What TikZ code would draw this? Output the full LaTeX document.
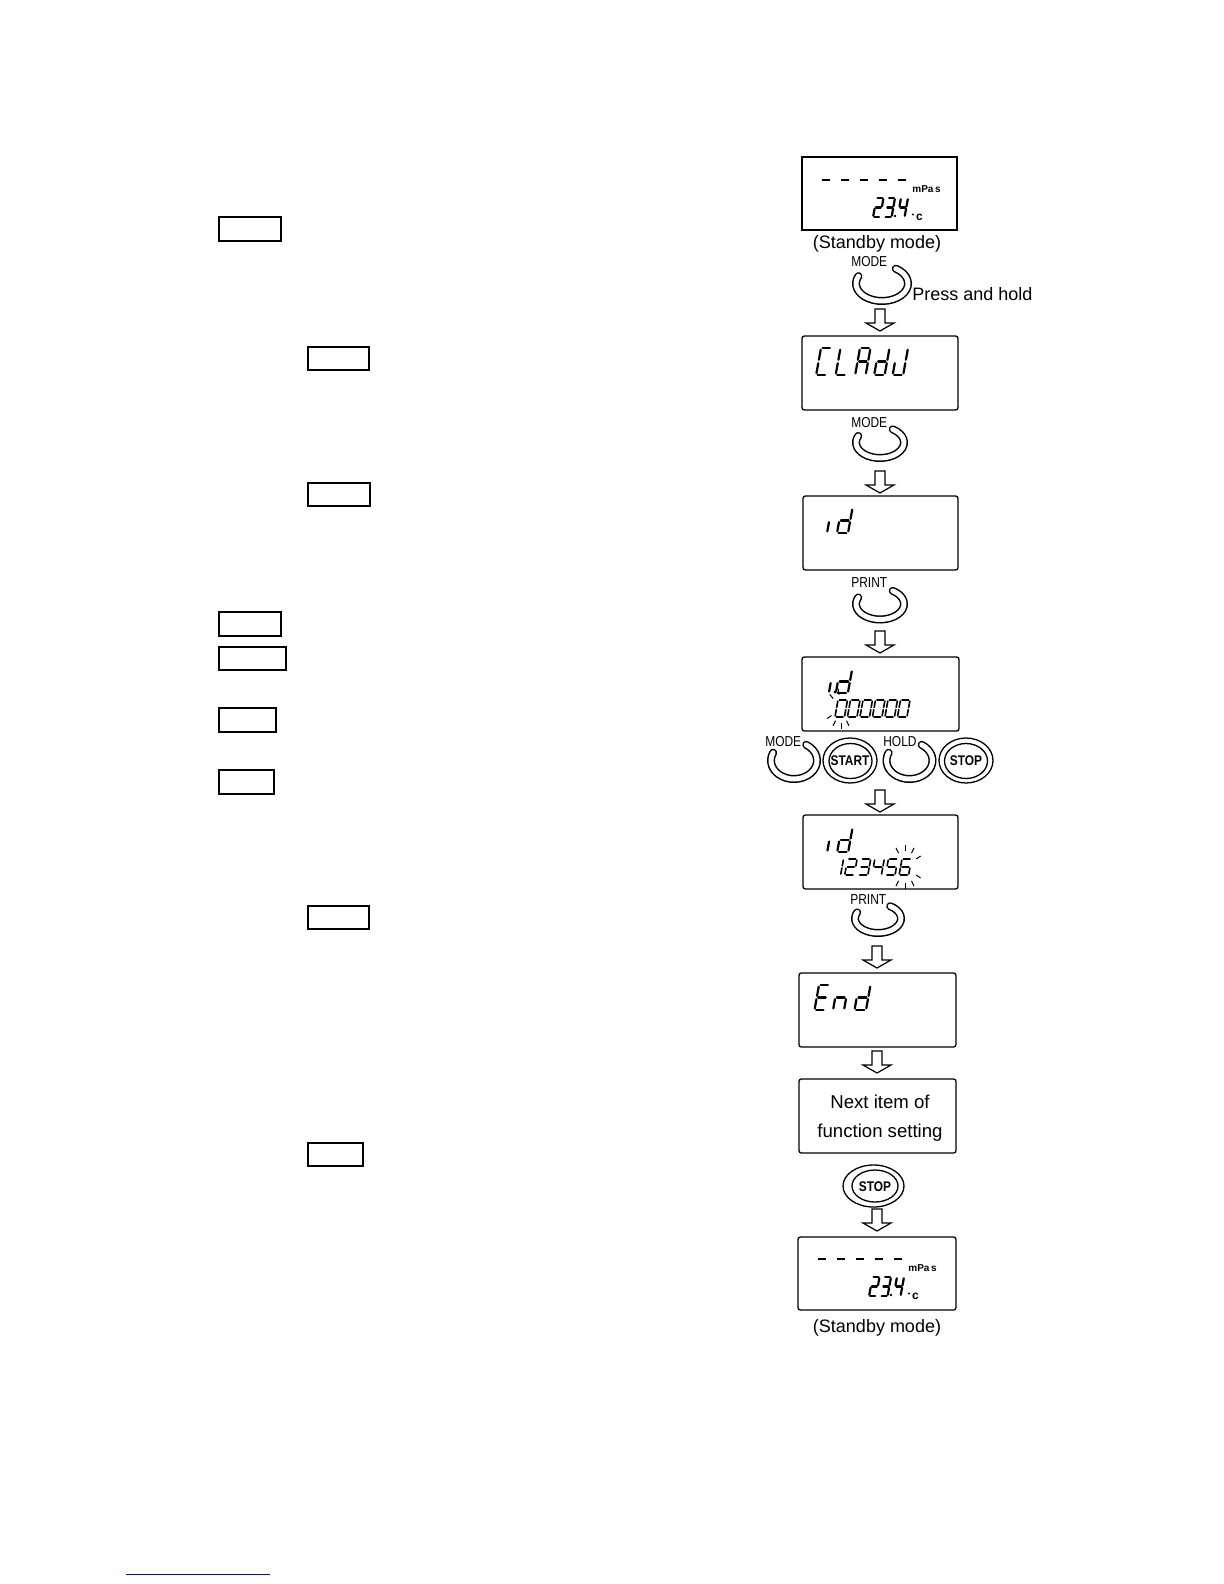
\documentclass[tikz,border=0pt]{standalone}
\usepackage{fontspec}
\setmainfont{Liberation Sans}
\pgfkeys{/seg/.cd,
 a/.code={\draw[segl] (0.15,0)--(0.85,0);},
 b/.code={\draw[segl] (1,0.13)--(1,0.87);},
 c/.code={\draw[segl] (1,1.13)--(1,1.87);},
 d/.code={\draw[segl] (0.15,2)--(0.85,2);},
 e/.code={\draw[segl] (0,1.13)--(0,1.87);},
 f/.code={\draw[segl] (0,0.13)--(0,0.87);},
 g/.code={\draw[segl] (0.15,1)--(0.85,1);}}
% x, y (top-left), width, height, segments
\newcommand\sdig[5]{%
 \pgfmathsetmacro\segsl{0.09*#4/#3}%
 \pgfmathsetmacro\segh{#4/2}%
 \begin{scope}[shift={(#1,#2)},xscale=#3,yscale=\segh,xslant=\segsl]
 \foreach \s in {#5}{\edef\segtmp{\noexpand\pgfkeys{/seg/\s}}\segtmp}
 \end{scope}}
\newcommand\ringbtn[4]{%
  \draw[ringb] (#1,#2) ++(58:#3 and #4) arc[start angle=58,end angle=-205,x radius=#3,y radius=#4];
  \draw[ringw] (#1,#2) ++(58:#3 and #4) arc[start angle=58,end angle=-205,x radius=#3,y radius=#4];}
\newcommand\harrow[2]{\draw[harr] (#1-5,#2) -- (#1+5,#2) -- (#1+5,#2+14) -- (#1+14,#2+14) -- (#1,#2+22) -- (#1-14,#2+14) -- (#1-5,#2+14) -- cycle;}
\newcommand\standbydisp[3]{%
 \begin{scope}[shift={(#1,#2)}]
 \foreach \xx in {821.5,840.5,859.5,878.5,897.5} \draw[line width=1.3pt] (\xx,180) -- (\xx+8.5,180);
 \node[font=\bfseries\fontsize{5}{6}\selectfont, inner sep=0, anchor=west] (mp#3) at (912,189) {mPa\,s};
 \sdig{876.5}{198}{7}{19}{a,b,g,e,d}
 \sdig{888}{198}{7}{19}{a,b,g,c,d}
 \sdig{901}{198}{7}{19}{f,g,b,c}
 \fill (895,216) circle[radius=0.65pt];
 \fill (913,214.5) circle[radius=0.55pt];
 \node[font=\bfseries\fontsize{6}{7}\selectfont, inner sep=0] (dc#3) at (919.5,217) {c};
 \end{scope}}
\begin{document}
\begin{tikzpicture}[x=0.5pt,y=-0.5pt,
  lbox/.style={line width=0.9pt},
  disp/.style={line width=0.65pt, rounded corners=1.2pt},
  segl/.style={line width=1.1pt, line cap=round},
  harr/.style={line width=0.6pt, fill=white, line join=miter},
  txt/.style={font=\fontsize{9}{11}\selectfont, inner sep=0},
  blbl/.style={font=\fontsize{7.2}{8}\selectfont, inner sep=0, xscale=0.83, anchor=west},
  ringb/.style={line width=4pt, line cap=round},
  ringw/.style={line width=2.5pt, white, line cap=round},
  btxt/.style={font=\bfseries\fontsize{7}{8}\selectfont, inner sep=0, xscale=0.85},
  dring/.style={line width=0.65pt},
  ray/.style={line width=0.5pt},
]
\useasboundingbox (0,0) rectangle (1224,1584);

% left key boxes
\draw[lbox] (219,217) rectangle (281,241);
\draw[lbox] (308,347) rectangle (369,370);
\draw[lbox] (308,483) rectangle (370,506);
\draw[lbox] (219,612) rectangle (281,636);
\draw[lbox] (219,647) rectangle (286,670);
\draw[lbox] (219,708) rectangle (276,732);
\draw[lbox] (219,770) rectangle (274,794);
\draw[lbox] (308,906) rectangle (369,929);
\draw[lbox] (308,1143) rectangle (363,1166);

% blue line at bottom
\draw[blue, line width=0.5pt] (126,1574) -- (270,1574);

% D1 standby
\draw[line width=0.65pt] (802,157) rectangle (957,230);
\standbydisp{0}{0}{a}
\node[txt, anchor=base] (sb1) at (877,248) {(Standby mode)};
\ringbtn{882}{283.5}{13pt}{8.75pt}
\node[blbl] (m1) at (851,262) {MODE};
\node[txt, anchor=base west] (ph) at (912,300) {Press and hold};
\harrow{880}{309}

% D2 CLAdJ
\draw[disp] (802,336) rectangle (958,410);
\sdig{821}{348}{10.5}{27}{a,d,e,f}
\sdig{840.5}{348}{10.5}{27}{d,e,f}
\sdig{860}{348}{10.5}{27}{a,b,c,e,f,g}
\sdig{879}{348}{10.5}{27}{b,c,d,e,g}
\sdig{897.5}{348}{10.5}{27}{b,c,d,e}
\ringbtn{880}{442.5}{12pt}{7.75pt}
\node[blbl] (m2) at (851,423) {MODE};
\harrow{880}{471}

% D3 id
\draw[disp] (803,496) rectangle (958,570);
\sdig{831.5}{508}{11}{25}{e}
\sdig{841.5}{508}{11}{25}{b,c,d,e,g}
\ringbtn{880}{604}{12pt}{7.75pt}
\node[blbl] (p1) at (851,583) {PRINT};
\harrow{880}{631}

% D4 i.d 000000
\draw[disp] (802,657) rectangle (959,731);
\sdig{833}{670}{11}{23}{e}
\fill (835,692) circle[radius=0.8pt];
\sdig{840}{670}{12}{23}{b,c,d,e,g}
\begin{scope}[segl/.style={line width=0.8pt, line cap=round}]
\foreach \i in {0,...,5} {\sdig{838+12.5*\i}{700}{9.5}{17}{a,b,c,d,e,f}}
\end{scope}
\foreach \a in {100,135,210,240,270,300}
  \draw[ray] ({841+11*cos(\a)},{708.5-14*sin(\a)}) -- ({841+16*cos(\a)},{708.5-20*sin(\a)});

% button row
\ringbtn{794}{760.5}{11.5pt}{9.25pt}
\node[blbl] (m3) at (765,742) {MODE};
\draw[dring] (850,760.5) ellipse[x radius=13.5pt, y radius=11.25pt];
\draw[dring] (850.5,761) ellipse[x radius=10.75pt, y radius=8.75pt];
\node[btxt] (st) at (850,761) {START};
\ringbtn{909.5}{760.5}{11.5pt}{9.25pt}
\node[blbl] (h1) at (883,742) {HOLD};
\draw[dring] (966,760.5) ellipse[x radius=13.5pt, y radius=11.25pt];
\draw[dring] (966,761) ellipse[x radius=10.75pt, y radius=8.75pt];
\node[btxt] (sp1) at (966,761) {STOP};
\harrow{880}{790}

% D5 id 123456
\draw[disp] (803,815) rectangle (958,889);
\sdig{831.5}{828}{11}{24}{e}
\sdig{841.5}{828}{11}{24}{b,c,d,e,g}
\begin{scope}[segl/.style={line width=0.8pt, line cap=round}]
\sdig{834}{859}{9.5}{16}{b,c}
\sdig{847.6}{859}{9.5}{16}{a,b,g,e,d}
\sdig{861.2}{859}{9.5}{16}{a,b,g,c,d}
\sdig{874.8}{859}{9.5}{16}{f,g,b,c}
\sdig{888.4}{859}{9.5}{16}{a,f,g,c,d}
\sdig{902}{859}{9.5}{16}{a,f,g,e,c,d}
\end{scope}
\foreach \a in {30,60,90,120,-30,-60,-90,-120}
  \draw[ray] ({905+13*cos(\a)},{867-16*sin(\a)}) -- ({905+18*cos(\a)},{867-22*sin(\a)});
\ringbtn{878}{918.5}{11.5pt}{7.25pt}
\node[blbl] (p2) at (850,900) {PRINT};
\harrow{877}{946}

% D6 End
\draw[disp] (799,973) rectangle (956,1047);
\sdig{819}{985}{10.5}{25}{a,d,e,f,g}
\sdig{837.5}{985}{11}{25}{c,e,g}
\sdig{859}{985}{11.5}{25}{b,c,d,e,g}
\harrow{877}{1051}

% Next item box
\draw[disp] (799,1079) rectangle (956,1153);
\node[txt, font=\fontsize{9.3}{11}\selectfont, anchor=base] (n1) at (880,1108) {Next item of};
\node[txt, font=\fontsize{9.3}{11}\selectfont, anchor=base] (n2) at (880,1137) {function setting};

% STOP button
\draw[dring] (873.5,1186) ellipse[x radius=15.25pt, y radius=10.5pt];
\draw[dring] (875,1186) ellipse[x radius=11.5pt, y radius=8pt];
\node[btxt] (sp2) at (875,1186.5) {STOP};
\harrow{877}{1209}

% D7 standby
\draw[disp] (798,1237) rectangle (956,1310);
\standbydisp{-4}{1079}{b}
\node[txt, anchor=base] (sb2) at (877,1332) {(Standby mode)};
\end{tikzpicture}
\end{document}
